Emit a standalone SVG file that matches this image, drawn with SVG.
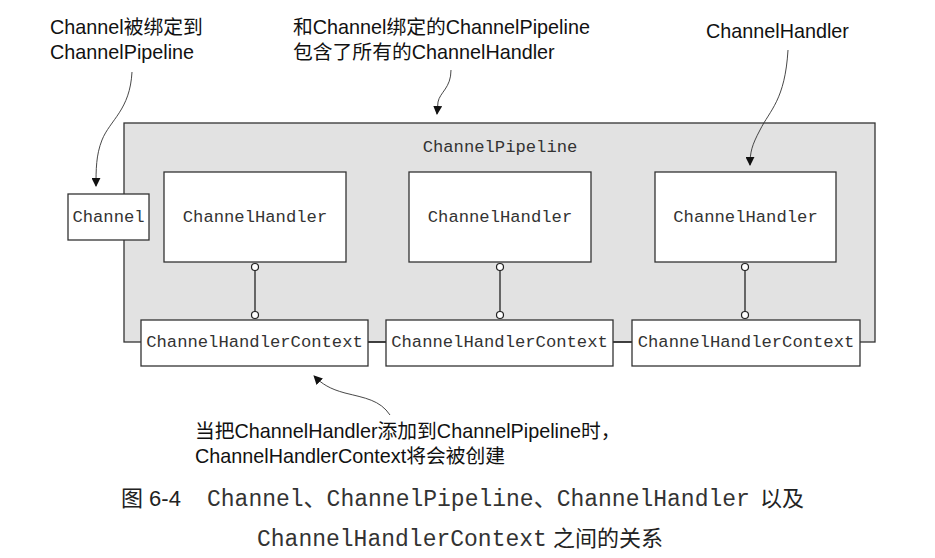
<svg xmlns="http://www.w3.org/2000/svg" width="935" height="558" viewBox="0 0 935 558">
<defs>
<marker id="ah" viewBox="0 0 10 10" refX="9" refY="5" markerWidth="9" markerHeight="9" markerUnits="userSpaceOnUse" orient="auto">
<path d="M0,0 L10,5 L0,10 z" fill="#111"/>
</marker>
<style>
.box{fill:#fff;stroke:#333;stroke-width:1.3}
.pipe{fill:#e2e2e2;stroke:#333;stroke-width:1.3}
.mono{font-family:"Liberation Mono","DejaVu Sans Mono",monospace;font-size:17.2px;fill:#333;text-anchor:middle}
.note{font-family:"Liberation Sans","Noto Sans CJK SC",sans-serif;font-size:19.8px;fill:#111}
.cap{font-family:"Liberation Sans","Noto Sans CJK SC",sans-serif;font-size:22px;fill:#222}
.capm{font-family:"Liberation Mono","Noto Sans CJK SC",monospace;font-size:23px;fill:#333}
.curve{fill:none;stroke:#333;stroke-width:0.9}
.link{stroke:#222;stroke-width:1.3}
.dot{fill:#fff;stroke:#222;stroke-width:1.2}
</style>
</defs>
<g id="pipeline">
<rect class="pipe" x="124" y="123" width="751" height="219"/>
<text class="mono" x="500" y="152">ChannelPipeline</text>
</g>
<g id="channel">
<rect class="box" x="68" y="194" width="81" height="46"/>
<text class="mono" x="108.5" y="222">Channel</text>
</g>
<g id="handler1">
<rect class="box" x="164" y="172" width="182" height="90"/>
<text class="mono" x="255" y="222">ChannelHandler</text>
</g>
<g id="handler2">
<rect class="box" x="409" y="172" width="182" height="90"/>
<text class="mono" x="500" y="222">ChannelHandler</text>
</g>
<g id="handler3">
<rect class="box" x="655" y="172" width="181" height="90"/>
<text class="mono" x="745.5" y="222">ChannelHandler</text>
</g>
<g id="connectors">
<line class="link" x1="368" y1="342" x2="386" y2="342"/>
<line class="link" x1="613" y1="342" x2="632" y2="342"/>
<line class="link" x1="255" y1="267" x2="255" y2="313"/>
<line class="link" x1="500" y1="267" x2="500" y2="313"/>
<line class="link" x1="745" y1="267" x2="745" y2="313"/>
<circle class="dot" cx="255" cy="267" r="3.5"/>
<circle class="dot" cx="255" cy="315" r="3.5"/>
<circle class="dot" cx="500" cy="267" r="3.5"/>
<circle class="dot" cx="500" cy="315" r="3.5"/>
<circle class="dot" cx="745" cy="267" r="3.5"/>
<circle class="dot" cx="745" cy="315" r="3.5"/>
<path class="curve" d="M132,72 C130,110 110,120 102,140 C96,155 96,170 96,186" marker-end="url(#ah)"/>
<path class="curve" d="M451,70 C451,88 440,92 438,102 L437,114" marker-end="url(#ah)"/>
<path class="curve" d="M788,50 C785,100 770,110 760,130 C752,145 750,152 750,165" marker-end="url(#ah)"/>
<path class="curve" d="M390,415 C380,400 365,398 345,393 C330,389 322,384 314,376" marker-end="url(#ah)"/>
</g>
<g id="context1">
<rect class="box" x="141" y="320" width="227" height="46"/>
<text class="mono" x="254.5" y="347">ChannelHandlerContext</text>
</g>
<g id="context2">
<rect class="box" x="386" y="320" width="227" height="46"/>
<text class="mono" x="499.5" y="347">ChannelHandlerContext</text>
</g>
<g id="context3">
<rect class="box" x="632" y="320" width="228" height="46"/>
<text class="mono" x="746" y="347">ChannelHandlerContext</text>
</g>
<g id="notes">
<text class="note" x="50" y="34">Channel被绑定到</text>
<text class="note" x="50" y="59">ChannelPipeline</text>
<text class="note" x="293" y="34">和Channel绑定的ChannelPipeline</text>
<text class="note" x="293" y="59">包含了所有的ChannelHandler</text>
<text class="note" x="706" y="38">ChannelHandler</text>
<text class="note" x="195" y="438">当把ChannelHandler添加到ChannelPipeline时，</text>
<text class="note" x="195" y="463">ChannelHandlerContext将会被创建</text>
</g>
<g id="caption">
<text class="cap" x="121" y="506">图 6-4</text>
<text class="capm" x="207" y="506">Channel、ChannelPipeline、ChannelHandler</text>
<text class="cap" x="760" y="506">以及</text>
<text class="capm" x="257" y="546">ChannelHandlerContext</text>
<text class="cap" x="553" y="546">之间的关系</text>
</g>
</svg>
